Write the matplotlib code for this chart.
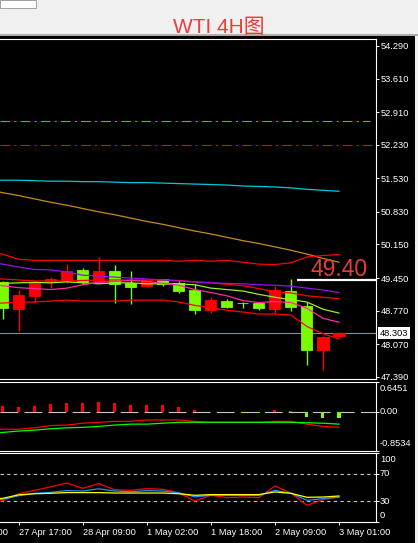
import matplotlib
matplotlib.use("Agg")
import numpy as np
import matplotlib.pyplot as plt
from matplotlib import transforms
from matplotlib.patches import Rectangle

plt.rcParams['font.family'] = ['Liberation Sans', 'Noto Sans CJK SC']
plt.rcParams['lines.scale_dashes'] = False

# candles (4H), index 0..21
opens  = [49.36, 48.81, 49.07, 49.36, 49.41, 49.62, 49.36, 49.60, 49.35, 49.28, 49.42,
          49.34, 49.21, 48.78, 48.98, 48.94, 48.93, 48.81, 49.17, 48.86, 47.94, 48.25]
highs  = [49.38, 49.21, 49.38, 49.48, 49.75, 49.66, 49.89, 49.72, 49.60, 49.42, 49.43,
          49.38, 49.32, 49.05, 49.01, 48.96, 48.94, 49.29, 49.43, 48.95, 48.25, 48.32]
lows   = [48.60, 48.35, 48.95, 49.25, 49.35, 49.33, 49.35, 48.93, 48.91, 49.27, 49.29,
          49.13, 48.71, 48.73, 48.83, 48.82, 48.78, 48.72, 48.76, 47.64, 47.53, 48.22]
closes = [48.82, 49.10, 49.36, 49.44, 49.60, 49.36, 49.60, 49.33, 49.26, 49.41, 49.33,
          49.19, 48.78, 49.00, 48.85, 48.93, 48.82, 49.21, 48.84, 47.96, 48.23, 48.303]

# indicator lines, index -1..21
bb_upper = [49.99, 49.95, 49.84, 49.82, 49.82, 49.82, 49.82, 49.82, 49.82, 49.82, 49.82, 49.82,
            49.80, 49.82, 49.80, 49.82, 49.78, 49.74, 49.73, 49.77, 49.89, 49.92, 49.94]
bb_mid   = [49.44, 49.43, 49.41, 49.39, 49.39, 49.39, 49.40, 49.41, 49.41, 49.41, 49.41, 49.41,
            49.40, 49.37, 49.35, 49.32, 49.29, 49.23, 49.16, 49.14, 49.08, 49.05, 49.02]
bb_lower = [48.92, 48.93, 48.95, 48.95, 48.97, 48.99, 48.97, 48.97, 48.97, 48.99, 48.99, 48.99,
            48.95, 48.88, 48.83, 48.78, 48.74, 48.70, 48.70, 48.68, 48.44, 48.29, 48.18]
ma_purple = [49.79, 49.74, 49.68, 49.63, 49.62, 49.58, 49.51, 49.49, 49.47, 49.45, 49.43, 49.41,
             49.39, 49.37, 49.35, 49.34, 49.33, 49.31, 49.30, 49.28, 49.24, 49.20, 49.15]
ma_lime = [49.33, 49.34, 49.35, 49.36, 49.35, 49.37, 49.35, 49.33, 49.35, 49.35, 49.33, 49.33,
           49.33, 49.31, 49.24, 49.21, 49.18, 49.11, 49.05, 49.00, 48.95, 48.80, 48.72]
ma_pink = [49.33, 49.29, 49.25, 49.23, 49.21, 49.24, 49.31, 49.36, 49.38, 49.40, 49.38, 49.34,
           49.30, 49.21, 49.15, 49.08, 48.98, 48.94, 48.96, 48.94, 48.82, 48.61, 48.53]
ma_orange = [51.30, 51.23, 51.17, 51.10, 51.03, 50.97, 50.90, 50.83, 50.77, 50.70, 50.63, 50.57,
             50.50, 50.43, 50.37, 50.30, 50.23, 50.17, 50.10, 50.03, 49.95, 49.86, 49.78]
ma_cyan = [51.50, 51.49, 51.49, 51.48, 51.47, 51.47, 51.46, 51.46, 51.45, 51.44, 51.44, 51.43,
           51.42, 51.41, 51.40, 51.39, 51.37, 51.36, 51.35, 51.33, 51.30, 51.28, 51.26]

level_green = 52.73
level_red = 52.22
level_mark = 49.40
bid = 48.303

# MACD (index -1..21 for lines, 0..21 for bars)
dif = [-0.38, -0.38, -0.38, -0.35, -0.30, -0.29, -0.25, -0.23, -0.21, -0.21, -0.18, -0.18,
       -0.18, -0.21, -0.23, -0.23, -0.23, -0.23, -0.21, -0.21, -0.27, -0.32, -0.34]
dea = [-0.46, -0.45, -0.42, -0.40, -0.37, -0.35, -0.34, -0.32, -0.29, -0.27, -0.27, -0.25,
       -0.23, -0.23, -0.23, -0.23, -0.23, -0.23, -0.23, -0.23, -0.24, -0.25, -0.27]
macd_hist = [0.115, 0.094, 0.124, 0.167, 0.189, 0.189, 0.202, 0.180, 0.146, 0.146, 0.146,
             0.102, 0.028, 0.0, 0.0, -0.028, -0.022, 0.028, 0.015, -0.115, -0.146, -0.146]

# RSI-type oscillator (index -1..21)
rsi_red = [27.1, 30.7, 40.9, 45.9, 51.0, 56.5, 48.8, 55.7, 46.7, 45.9, 48.4, 47.4,
           42.3, 30.4, 38.7, 35.4, 36.2, 35.4, 52.2, 42.0, 24.2, 32.5, 36.2]
rsi_blue = [30.7, 32.9, 38.0, 41.6, 43.0, 45.5, 44.9, 48.1, 44.9, 43.8, 45.5, 44.9,
            42.3, 36.5, 38.7, 38.7, 38.7, 38.7, 45.9, 41.6, 31.4, 33.9, 36.2]
rsi_yellow = [32.2, 34.3, 39.4, 40.9, 41.6, 42.6, 42.6, 42.6, 42.0, 42.0, 42.0, 42.0,
              40.9, 38.7, 39.7, 39.7, 39.7, 39.7, 43.5, 41.6, 35.8, 36.2, 37.7]

price_ticks = [54.29, 53.61, 52.91, 52.23, 51.53, 50.83, 50.15, 49.45, 48.77, 48.07, 47.39]
time_ticks = [1, 5, 9, 13, 17, 21]
time_labels = ["27 Apr 17:00", "28 Apr 09:00", "1 May 02:00", "1 May 18:00",
               "2 May 09:00", "3 May 01:00"]

W, H = 418, 543
fig = plt.figure(figsize=(W / 100, H / 100), dpi=100, facecolor='black')


def box(l, t, r, b):
    return [l / W, 1 - b / H, (r - l) / W, (b - t) / H]


ax = fig.add_axes(box(0, 39, 375.5, 379))
ax_macd = fig.add_axes(box(0, 382, 375.5, 451))
ax_rsi = fig.add_axes(box(0, 453, 375.5, 522))

xlim = (-0.169, 23.28)
for a in (ax, ax_macd, ax_rsi):
    a.set_facecolor('black')
    a.set_xlim(*xlim)
    for s in ('top', 'bottom', 'right'):
        a.spines[s].set_color('white')
        a.spines[s].set_linewidth(0.8)
    a.spines['left'].set_visible(False)
    a.tick_params(axis='both', colors='white', length=2.2, width=0.7, labelsize=6.7,
                  direction='out', pad=1.8)
    a.yaxis.tick_right()

x = np.arange(len(closes))
xl = np.arange(-1, len(closes))
bull = '#ff0000'
bear = '#7cfc00'
dashdot = (0, (7, 3, 1.5, 3))

# main chart
ax.set_ylim(47.345, 54.435)
ax.axhline(bid, color='#7f8fa0', lw=0.8, zorder=1)
for i in x:
    c = bull if closes[i] >= opens[i] else bear
    ax.vlines(i, lows[i], highs[i], color=c, lw=1, zorder=2)
    lo, hi = min(opens[i], closes[i]), max(opens[i], closes[i])
    ax.bar(i, hi - lo, 0.69, bottom=lo, color=c, edgecolor=c, lw=0.6, zorder=3)

ax.plot(xl, ma_cyan, color='#00c8d4', lw=0.9, zorder=4)
ax.plot(xl, ma_orange, color='#c98a1c', lw=0.9, zorder=4)
ax.plot(xl, bb_upper, color='#ff0000', lw=0.9, zorder=4)
ax.plot(xl, bb_mid, color='#ff0000', lw=0.9, zorder=4)
ax.plot(xl, bb_lower, color='#ff0000', lw=0.9, zorder=4)
ax.plot(xl, ma_purple, color='#9a10e0', lw=0.9, zorder=4)
ax.plot(xl, ma_lime, color='#9aef20', lw=0.9, zorder=4)
ax.plot(xl, ma_pink, color='#ff2aa0', lw=0.9, zorder=4)

ax.hlines(level_green, xlim[0], 22.96, color='#3ec43e', lw=0.8, linestyles=[dashdot])
ax.hlines(level_red, xlim[0], 23.05, color='#ff0000', lw=0.8, linestyles=[dashdot])
ax.hlines(level_mark, 18.39, xlim[1], color='white', lw=1.6, zorder=5)
ax.text(19.25, 49.485, f"{level_mark:.2f}", color='#e63c3c', fontsize=16.5,
        family=['Liberation Sans Narrow', 'Liberation Sans'], ha='left', va='baseline', zorder=6)

ax.set_yticks(price_ticks)
ax.set_yticklabels([f"{v:.3f}" for v in price_ticks])
ax.set_xticks([])
blend = transforms.blended_transform_factory(ax.transAxes, ax.transData)
ax.text(1.0, bid, f"{bid:.3f}", transform=transforms.offset_copy(blend, fig, x=3.0, units='points'),
        color='black', fontsize=6.7, va='center', ha='left', clip_on=False, zorder=10,
        bbox=dict(boxstyle='square,pad=0.18', fc='white', ec='none'))

# MACD
ax_macd.set_ylim(-0.8534, 0.6451)
ax_macd.axhline(0, color='#c8c8c8', lw=0.8, dashes=(12.8, 4.5), zorder=1)
hcol = [bull if v >= 0 else bear for v in macd_hist]
ax_macd.bar(x, macd_hist, 0.19, color=hcol, zorder=2)
ax_macd.plot(xl, dif, color='#ff0000', lw=0.9, zorder=3)
ax_macd.plot(xl, dea, color='#00ff00', lw=0.9, zorder=4)
ax_macd.set_yticks([-0.8534, 0, 0.6451])
ax_macd.set_yticklabels([])
ax_macd.set_xticks([])
mb = transforms.blended_transform_factory(ax_macd.transAxes, ax_macd.transData)
for val, txt, dy in [(0.6451, "0.6451", -4.5), (0, "0.00", 0), (-0.8534, "-0.8534", 5.5)]:
    ax_macd.text(1.0, val, txt, transform=transforms.offset_copy(mb, fig, x=3.2, y=dy, units='points'),
                 color='white', fontsize=6.7, va='center', ha='left', clip_on=False)

# oscillator
ax_rsi.set_ylim(0, 100)
for lv in (70, 30):
    ax_rsi.axhline(lv, color='#c8c8c8', lw=0.8, dashes=(2.4, 2.4), zorder=1)
ax_rsi.plot(xl, rsi_red, color='#ff0000', lw=0.9, zorder=2)
ax_rsi.plot(xl, rsi_blue, color='#1e90ff', lw=0.9, zorder=3)
ax_rsi.plot(xl, rsi_yellow, color='#ffff00', lw=0.9, zorder=4)
ax_rsi.set_yticks([0, 30, 70, 100])
ax_rsi.set_yticklabels([])
rb = transforms.blended_transform_factory(ax_rsi.transAxes, ax_rsi.transData)
for val, dy in [(100, -4.8), (70, 0), (30, 0), (0, 4.6)]:
    ax_rsi.text(1.0, val, str(val), transform=transforms.offset_copy(rb, fig, x=3.2, y=dy, units='points'),
                color='white', fontsize=6.7, va='center', ha='left', clip_on=False)

ax_rsi.set_xticks(time_ticks)
ax_rsi.set_xticklabels(time_labels)
for lbl in ax_rsi.get_xticklabels():
    lbl.set_ha('left')
xb = transforms.blended_transform_factory(ax_rsi.transData, ax_rsi.transAxes)
ax_rsi.text(-3, 0, "27 Apr 01:00", transform=transforms.offset_copy(xb, fig, y=-4.0, units='points'),
            color='white', fontsize=6.7, ha='left', va='top', clip_on=False)

# window chrome
fig.patches.append(Rectangle((0, 1 - 36 / H), 1, 36 / H, transform=fig.transFigure,
                             fc='#f0f0f0', ec='none', zorder=0))
fig.lines.append(plt.Line2D([0, 1], [1 - 35 / H, 1 - 35 / H], transform=fig.transFigure,
                            color='#a0a0a0', lw=1.2))
fig.patches.append(Rectangle((0, 1 - 8 / H), 36 / W, 8 / H, transform=fig.transFigure,
                             fc='white', ec='#a0a0a0', lw=0.7))
fig.patches.append(Rectangle((414.5 / W, 0), 3.5 / W, 1, transform=fig.transFigure,
                             fc='#f0f0f0', ec='none'))
fig.text(218.7 / W, 1 - 33.3 / H, "WTI 4H图", color='#ee3b3b', fontsize=15,
         ha='center', va='baseline')

fig.savefig("out.png", dpi=100, facecolor='black')
